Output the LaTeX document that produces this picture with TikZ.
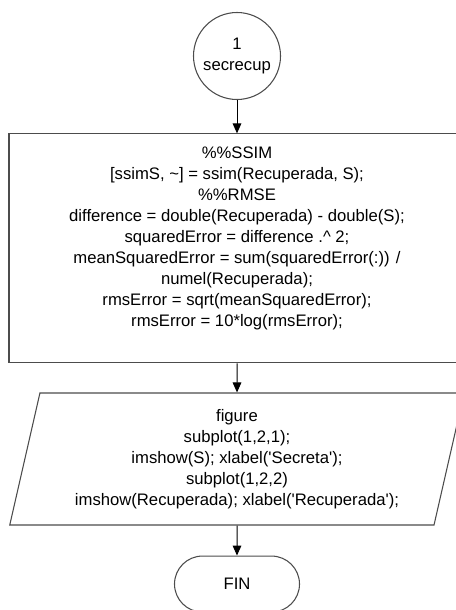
\documentclass[tikz,border=0pt]{standalone}
\usepackage{fontspec}
\setmainfont{Liberation Sans}
\usetikzlibrary{positioning,arrows.meta,shapes.geometric,shapes.misc}

\begin{document}
\begin{tikzpicture}[
  font=\fontsize{12.5pt}{15.75pt}\selectfont,
  fc/.style  ={draw=black!70, line width=0.8pt, align=center, inner sep=0pt},
  ini/.style ={fc, circle, minimum size=65.25pt},
  proc/.style={fc, rectangle, minimum width=342pt, minimum height=171.75pt},
  io/.style  ={fc, trapezium, trapezium left angle=76, trapezium right angle=104,
               trapezium stretches=true, minimum width=342pt, minimum height=99pt},
  fin/.style ={fc, rounded rectangle, minimum width=93.75pt, minimum height=42pt},
  code/.style={align=center, inner sep=0pt},
  ar/.style  ={-{Triangle[length=7.5pt,width=6.5pt]}, line width=0.75pt},
]
\useasboundingbox (0,0) rectangle (342pt,-457.5pt);

\node[ini] (ini) at (177.75pt,-42pt) {1\\secrecup};

\node[proc, below=25pt of ini] (calc) {};
\node[code, below=9.75pt of calc.north] (calctxt) {%
  \%\%SSIM\\
  {[}ssimS, \textasciitilde{}{]} = ssim(Recuperada, S);\\
  \%\%RMSE\\
  difference = double(Recuperada) - double(S);\\
  squaredError = difference .\textasciicircum{} 2;\\
  meanSquaredError = sum(squaredError(:)) /\\
  numel(Recuperada);\\
  rmsError = sqrt(meanSquaredError);\\
  rmsError = 10*log(rmsError);};

\node[io, below=21.75pt of calc] (fig) {%
  figure\\
  subplot(1,2,1);\\
  imshow(S); xlabel(\textquotesingle Secreta\textquotesingle);\\
  subplot(1,2,2)\\
  imshow(Recuperada); xlabel(\textquotesingle Recuperada\textquotesingle);};

\node[fin, below=22.5pt of fig] (fin) {FIN};

\draw[ar] (ini) -- (calc);
\draw[ar] (calc) -- (fig);
\draw[ar] (fig) -- (fin);

\end{tikzpicture}
\end{document}
